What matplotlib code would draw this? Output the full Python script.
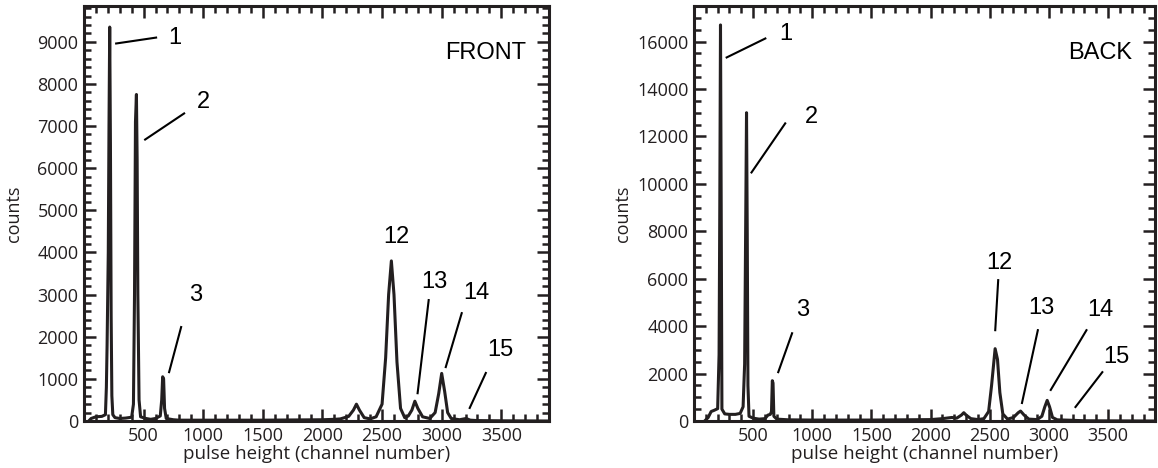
import matplotlib
matplotlib.use('Agg')
import matplotlib.pyplot as plt
from matplotlib.ticker import MultipleLocator

plt.rcParams['font.family'] = ['Open Sans', 'DejaVu Sans']

# ---------------- FRONT spectrum ----------------
front_ch = [40, 60, 100, 150, 180, 188, 194, 204, 210, 216, 222, 228, 234, 242,
            260, 300, 350, 400, 415, 424, 432, 440, 446, 452, 462, 475,
            520, 560, 600, 640, 652, 660, 668, 676, 690, 750, 800, 1000,
            1500, 2000, 2100, 2150, 2220, 2260, 2285, 2310, 2350, 2400,
            2450, 2500, 2530, 2555, 2578, 2600, 2625, 2655, 2690, 2720,
            2750, 2775, 2800, 2840, 2900, 2945, 2975, 3000, 3025, 3050,
            3080, 3150, 3205, 3240, 3300, 3500, 3900]
front_cts = [0, 60, 100, 110, 150, 800, 1800, 4000, 7000, 9350, 6600, 2500, 600, 150,
             80, 60, 70, 90, 400, 3000, 7100, 7750, 6200, 3000, 500, 100,
             60, 40, 60, 120, 500, 1050, 1000, 300, 60, 30, 20, 20,
             20, 30, 40, 50, 110, 260, 400, 260, 80, 50,
             100, 400, 1500, 3000, 3800, 3000, 1400, 300, 80, 120,
             260, 470, 300, 100, 60, 200, 650, 1130, 700, 200,
             60, 30, 60, 20, 10, 5, 0]

# ---------------- BACK spectrum ----------------
back_ch = [90, 120, 145, 170, 200, 212, 218, 224, 230, 236, 260, 300, 350, 390,
           415, 428, 438, 444, 450, 456, 465, 500, 550, 600, 625, 645, 655,
           662, 668, 675, 700, 800, 1000, 1500, 2000, 2100, 2180, 2220, 2260,
           2280, 2300, 2340, 2400, 2450, 2490, 2515, 2545, 2565, 2585, 2610,
           2650, 2700, 2740, 2760, 2790, 2830, 2900, 2940, 2965, 2985, 3005,
           3030, 3070, 3200, 3300, 3900]
back_cts = [0, 150, 400, 450, 520, 2800, 9000, 16700, 9000, 500, 300, 280, 280, 320,
            600, 2400, 9000, 13000, 8000, 1500, 200, 120, 80, 100, 250, 280, 400,
            1700, 1600, 200, 80, 50, 40, 40, 60, 100, 150, 120, 250,
            350, 250, 100, 60, 100, 400, 1500, 3050, 2600, 1200, 300,
            80, 150, 350, 420, 250, 80, 60, 200, 600, 870, 600,
            150, 50, 30, 10, 0]

# peak labels: (text, text x, text y, line x0, line y0, line x1, line y1)
front_labels = [('1', 760, 9100, 270, 8960, 605, 9100),
                ('2', 1000, 7560, 513, 6680, 840, 7300),
                ('3', 940, 2990, 714, 1160, 815, 2230),
                ('12', 2620, 4360, None, None, None, None),
                ('13', 2935, 3290, 2798, 660, 2891, 2870),
                ('14', 3295, 3030, 3034, 1280, 3168, 2560),
                ('15', 3490, 1680, 3235, 310, 3370, 1140)]
back_labels = [('1', 780, 16340, 276, 15330, 603, 16130),
               ('2', 990, 12800, 486, 10480, 771, 12550),
               ('3', 920, 4670, 712, 2060, 829, 3700),
               ('12', 2580, 6650, 2546, 3830, 2571, 5940),
               ('13', 2940, 4760, 2772, 760, 2906, 3830),
               ('14', 3435, 4670, 3015, 1310, 3317, 3830),
               ('15', 3570, 2700, 3224, 590, 3451, 2060)]

ink = '#231f20'
fig = plt.figure(figsize=(11.58, 4.68), dpi=100)
ax1 = fig.add_axes([0.0725, 0.1004, 0.4016, 0.8868])
ax2 = fig.add_axes([0.5993, 0.1004, 0.3985, 0.8868])


def style(ax, ymax, ymaj, ymin):
    ax.set_xlim(0, 3900)
    ax.set_ylim(0, ymax)
    ax.xaxis.set_major_locator(MultipleLocator(500))
    ax.xaxis.set_minor_locator(MultipleLocator(100))
    ax.yaxis.set_major_locator(MultipleLocator(ymaj))
    ax.yaxis.set_minor_locator(MultipleLocator(ymin))
    ax.tick_params(which='both', direction='in', top=True, right=True,
                   width=1.8, color=ink, labelcolor=ink, labelsize=13)
    ax.tick_params(which='major', length=8.5, pad=4)
    ax.tick_params(which='minor', length=5)
    for s in ax.spines.values():
        s.set_linewidth(2.2)
        s.set_color(ink)
    ax.set_xticks([500, 1000, 1500, 2000, 2500, 3000, 3500])
    ax.set_xlabel('pulse height (channel number)', fontsize=13.5, color=ink, labelpad=0)
    ax.set_ylabel('counts', fontsize=13, color=ink)


for ax, ch, cts, labels, tag, ymax, ymaj, ymin in [
        (ax1, front_ch, front_cts, front_labels, 'FRONT', 9850, 1000, 200),
        (ax2, back_ch, back_cts, back_labels, 'BACK', 17500, 2000, 500)]:
    style(ax, ymax, ymaj, ymin)
    ax.plot(ch, cts, color=ink, lw=2.2, solid_joinstyle='round')
    for t, tx, ty, x0, y0, x1, y1 in labels:
        if x0 is not None:
            ax.plot([x0, x1], [y0, y1], color='k', lw=1.5)
        ax.text(tx, ty, t, fontsize=17, family='Liberation Sans',
                ha='center', va='center', color='k')
    ax.text(0.95, 0.887, tag, transform=ax.transAxes, fontsize=17,
            family='Liberation Sans', ha='right', va='center', color='k')

ax1.yaxis.set_label_coords(-0.13, 0.5)
ax2.yaxis.set_label_coords(-0.135, 0.5)

fig.savefig('out.png', dpi=100)
